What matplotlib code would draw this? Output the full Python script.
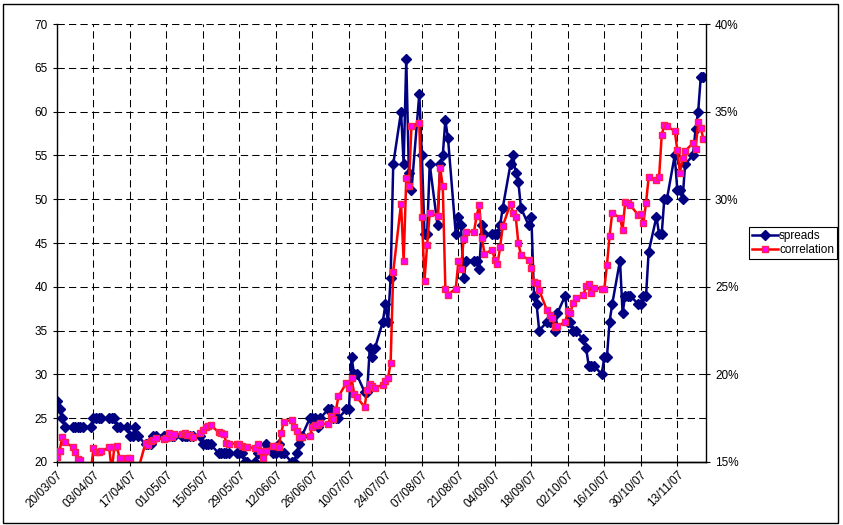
import numpy as np
import pandas as pd
import matplotlib
matplotlib.use("Agg")
import matplotlib.pyplot as plt
import matplotlib.dates as mdates
from matplotlib.ticker import FuncFormatter, MultipleLocator
from matplotlib.patches import Rectangle

plt.rcParams['font.family'] = ['Liberation Sans', 'DejaVu Sans']

# business days 20/03/07 .. 23/11/07, values read per month
spreads_mar = [27, 26, 25, 24, 24, 24, 24, 24, 24]
spreads_apr = [24, 25, 25, 25, 25, 25, 25, 25, 24, 24, 24, 23, 23, 24, 23, 22, 22, 22, 23, 23, 23]
spreads_may = [23, 23, 23, 23, 23, 23, 23, 23, 23, 23, 22, 22, 22, 22, 21, 21, 21, 21, 21, 21, 21, 21, 20]
spreads_jun = [20, 20, 21, 21, 21, 22, 21, 21, 22, 21, 21, 20, 20, 21, 22, 23, 25, 25, 25, 24, 25]
spreads_jul = [26, 26, 25, 25, 25, 26, 26, 32, 30, 30, 28, 28, 33, 32, 33, 36, 38, 36, 41, 54, 60, 54]
spreads_aug = [66, 53, 51, 62, 55, 46, 46, 54, 47, 54, 55, 59, 57, 46, 48, 47, 41, 43, 43, 43, 42, 47, 46]
spreads_sep = [46, 46, 46, 47, 49, 54, 55, 53, 52, 49, 47, 48, 39, 38, 35, 36, 36, 36, 35, 37]
spreads_oct = [39, 36, 36, 35, 35, 34, 33, 31, 31, 31, 30, 32, 32, 36, 38, 43, 37, 39, 39, 39, 38, 38, 39]
spreads_nov = [39, 44, 48, 46, 46, 50, 50, 55, 51, 51, 50, 54, 55, 58, 60, 64, 64]

# correlation in %, values under 15% run off the bottom of the chart
corr_mar = [15.3, 15.65, 16.4, 16.15, 15.85, 15.55, 15.15, 15.1, 14.5]
corr_apr = [14.5, 15.8, 15.55, 15.55, 15.6, 15.85, 14.5, 15.85, 15.9, 15.2, 15.2, 15.25, 14.5, 14.5, 14.5,
            16.1, 15.95, 16.2, 16.25, 16.35, 16.3]
corr_may = [16.35, 16.65, 16.45, 16.6, 16.6, 16.65, 16.55, 16.55, 16.4, 16.65, 16.85, 17.0, 17.05, 17.1,
            16.7, 16.65, 16.6, 16.1, 16.05, 16.05, 16.0, 15.9, 15.85]
corr_jun = [15.85, 15.8, 16.0, 15.65, 15.2, 15.65, 15.9, 15.9, 15.85, 16.65, 17.3, 17.4, 17.0, 16.75,
            16.45, 16.45, 16.5, 17.0, 17.1, 17.1, 17.2]
corr_jul = [17.15, 17.6, 17.45, 17.95, 18.75, 19.5, 19.2, 19.8, 18.9, 18.7, 18.15, 19.1, 19.45, 19.35,
            19.25, 19.4, 19.65, 19.8, 20.65, 25.85, 29.75, 26.45]
corr_aug = [31.2, 30.75, 34.2, 34.35, 29.0, 25.35, 27.4, 29.2, 29.05, 31.8, 30.75, 24.9, 24.55, 24.9,
            26.45, 26.0, 27.7, 28.15, 28.15, 29.05, 29.65, 27.8, 26.9]
corr_sep = [27.1, 26.55, 26.3, 27.25, 28.45, 29.75, 29.2, 29.0, 27.5, 26.8, 26.55, 26.05, 25.25, 25.2,
            24.8, 23.65, 23.4, 23.2, 22.7, 22.75]
corr_oct = [23.0, 23.6, 23.5, 24.1, 24.35, 24.55, 25.05, 25.15, 24.65, 24.95, 24.85, 24.9, 26.25, 27.9,
            29.2, 28.95, 28.25, 29.85, 29.8, 29.65, 29.1, 29.15, 28.65]
corr_nov = [29.8, 31.25, 31.1, 31.25, 33.65, 34.25, 34.15, 33.9, 32.8, 31.5, 32.35, 32.75, 33.2, 32.85,
            34.4, 34.05, 33.45]

dates = pd.bdate_range('2007-03-20', '2007-11-23')
spreads = np.array(spreads_mar + spreads_apr + spreads_may + spreads_jun + spreads_jul +
                   spreads_aug + spreads_sep + spreads_oct + spreads_nov)
corr = np.array(corr_mar + corr_apr + corr_may + corr_jun + corr_jul +
                corr_aug + corr_sep + corr_oct + corr_nov)

W, H = 843, 525
fig = plt.figure(figsize=(W / 100, H / 100), dpi=100)
ax = fig.add_axes([57 / W, 63 / H, 649 / W, 438 / H])
ax2 = ax.twinx()

l1, = ax.plot(dates, spreads, color='#000080', lw=1.8, marker='D', ms=5,
              mfc='#000080', mec='#000080', label='spreads')
l2, = ax2.plot(dates, corr, color='#FF0000', lw=1.8, marker='s', ms=4.5,
               mfc='#FF00FF', mec='#FF2050', mew=1, label='correlation')

ax.set_ylim(20, 70)
ax.yaxis.set_major_locator(MultipleLocator(5))
ax2.set_ylim(15, 40)
ax2.yaxis.set_major_locator(MultipleLocator(5))
ax2.yaxis.set_major_formatter(FuncFormatter(lambda v, p: '%d%%' % v))

ticks = pd.date_range('2007-03-20', '2007-11-13', freq='14D')
ax.set_xlim(pd.Timestamp('2007-03-20'), pd.Timestamp('2007-11-24'))
ax.set_xticks(ticks)
ax.xaxis.set_major_formatter(mdates.DateFormatter('%d/%m/%y'))
plt.setp(ax.get_xticklabels(), rotation=45, ha='right', rotation_mode='anchor')

ax.grid(True, color='black', linestyle=(0, (7, 4)), linewidth=0.75)
ax.set_axisbelow(True)

for a in (ax, ax2):
    a.spines['top'].set_visible(False)
    for s in a.spines.values():
        s.set_linewidth(1.0)
    a.tick_params(labelsize=8.5, length=3, width=0.8, colors='black')
ax.spines['right'].set_visible(False)
ax2.spines['left'].set_visible(False)
ax.tick_params(axis='x', pad=2)

leg = fig.legend([l1, l2], ['spreads', 'correlation'], loc='upper left',
                 bbox_to_anchor=(749 / W, 1 - 227 / H), frameon=True, fancybox=False,
                 edgecolor='black', framealpha=1, borderaxespad=0, fontsize=8.5,
                 handlelength=2.2, borderpad=0.25, labelspacing=0.15, handletextpad=0.1)
leg.get_frame().set_linewidth(0.8)

# border round the whole chart
fig.patches.append(Rectangle((3 / W, 2 / H), 835 / W, 519 / H, transform=fig.transFigure,
                             fill=False, edgecolor='black', linewidth=1.0))

fig.savefig('out.png', dpi=100)
